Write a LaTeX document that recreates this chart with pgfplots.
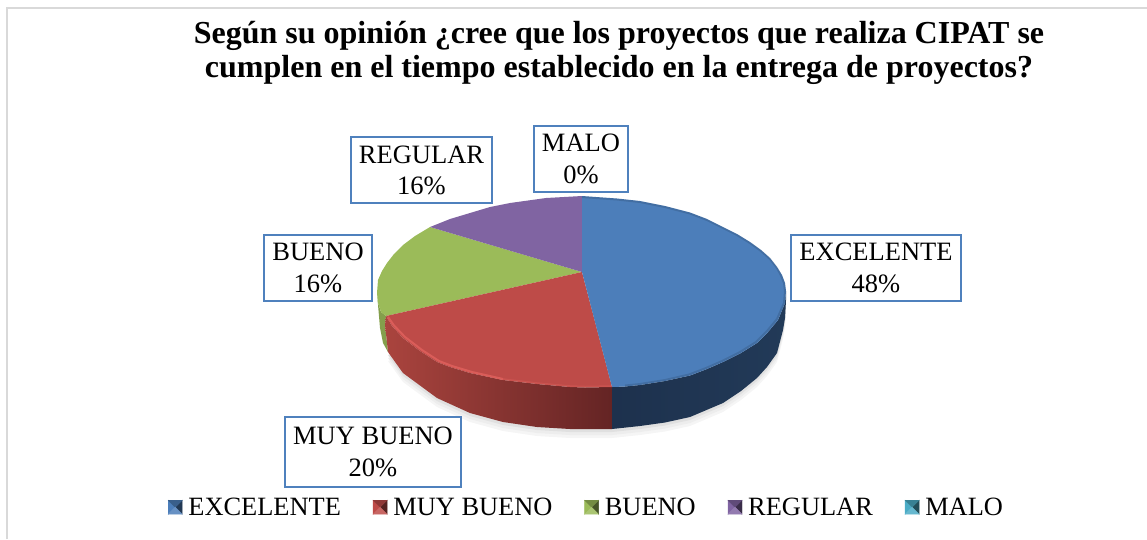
\documentclass[border=0pt]{standalone}
\usepackage{pgfplots}
\usepackage{pgfplotstable}
\usepackage{fontspec}
\setmainfont{Liberation Serif}
\pgfplotsset{compat=1.18}
\definecolor{boxblue}{RGB}{79,129,189}
\definecolor{cA}{RGB}{76,126,186}
\definecolor{cB}{RGB}{190,75,72}
\definecolor{cC}{RGB}{155,187,89}
\definecolor{cD}{RGB}{128,100,162}
\definecolor{cE}{RGB}{75,172,198}
\pgfplotstableread{
x y
582 272
582 196
617 198.5
640 201
665 206
690 212.5
707 219
723 227
737 234
750 242
761 250
770 258
777 267
782 275
785 283
786 291
785 303
778 320
768 332
757 343
741 353
723 362
707 369
690 375.5
665 381
640 385
625 386.5
612 387
}\blueTop
\pgfplotstableread{
x y
582 272
612 387
585 387.5
570 387
537 384
503 380
470 373
450 367
437 362
420 351
403 338
392 326
386 316
}\redTop
\pgfplotstableread{
x y
582 272
386 316
381 312
378 303
377 293
378 280
382 271
387 263
394 254
403 245
415 236
430 227
}\greenTop
\pgfplotstableread{
x y
582 272
430 227
450 219
470 213
490 207
510 203
546 198
582 196
}\purpleTop
\pgfplotstableread{
x y
786 291
785 303
778 320
768 332
757 343
741 353
723 362
707 369
690 375.5
665 381
640 385
625 386.5
612 387
612 429
640 426
665 422.5
690 417
723 403
741 391
757 378
767 367
777 353
783 330
785 318
786 300
}\blueWall
\pgfplotstableread{
x y
612 387
585 387.5
570 387
537 384
503 380
470 373
450 367
437 362
420 351
403 338
392 326
386 316
385 325
388 352
403 373
437 398
470 413
503 422
537 427
570 429
612 429
}\redWall
\pgfplotstableread{
x y
377 293
378 303
381 312
386 316
385 325
388 352
383 343
380 328
}\greenWall
\pgfplotstableread{
x y
786 300
785 318
783 330
777 353
767 367
757 378
741 391
723 403
690 417
665 422.5
640 426
612 429
570 429
537 427
503 422
470 413
437 398
403 373
388 352
582 300
}\shadowShape
\pgfplotstableread{
x y
388 317
394 325.5
405 337
422 350
439 361
452 366
472 372
503 379
}\redRim
\pgfplotstableread{
x y
503 379
537 383
570 386
585 386.5
612 386
}\redRimEnd
\pgfplotstableread{
x y
582 197
617 199.5
640 202
665 207
690 213.5
707 220
723 228
737 235
750 243
761 251
770 259
777 268
781 275.5
784 283
785 291
784 303
777 319
767 331
756 342
740 352
722 361
706 368
689 374.5
665 380
640 384
625 385.5
}\blueRim
\newcommand{\swatch}[1]{%
  \addlegendimage{legend image code/.code={%
    \begin{scope}[yshift=8.5pt]
    \fill[#1] (0pt,-7pt) -- (7pt,0pt) -- (0pt,7pt) -- cycle;
    \fill[#1!45!black] (14pt,-7pt) -- (7pt,0pt) -- (14pt,7pt) -- cycle;
    \fill[#1!75!black] (0pt,7pt) -- (7pt,0pt) -- (14pt,7pt) -- cycle;
    \fill[#1!85!white] (0pt,-7pt) -- (7pt,0pt) -- (14pt,-7pt) -- cycle;
    \end{scope}
  }}%
}
\begin{document}
\begin{tikzpicture}
\useasboundingbox (0,0) rectangle (1147pt,539pt);
\begin{axis}[
  scale only axis, width=1147pt, height=539pt,
  xmin=0, xmax=1147, ymin=0, ymax=539, y dir=reverse,
  hide axis, clip=true,
  every axis plot/.append style={forget plot},
  legend style={at={(0.1465,0.0580)}, anchor=west, draw=none, fill=none,
    legend columns=5, inner sep=0pt, outer sep=0pt,
    font=\fontsize{26.4}{30}\selectfont,
    /tikz/every even column/.append style={column sep=32pt},
    /tikz/every odd column/.append style={column sep=6pt},
    nodes={inner sep=0pt, outer sep=0pt, anchor=base west},
    legend cell align=left},
]
% frame
\addplot[color=black!15, line width=2pt] coordinates {(7,539) (7,8) (1147,8)};
% shadow
\addplot[fill=black!4, draw=none, yshift=-9pt] table {\shadowShape};
\addplot[fill=black!7, draw=none, yshift=-6pt] table {\shadowShape};
\addplot[fill=black!12, draw=none, yshift=-3pt] table {\shadowShape};
% walls
\addplot[fill=cC!85!black, draw=none] table {\greenWall};
\addplot[draw=none, left color={rgb,255:red,170;green,68;blue,62}, middle color={rgb,255:red,128;green,50;blue,48}, right color={rgb,255:red,100;green,36;blue,36}] table {\redWall};
\addplot[draw=none, left color={rgb,255:red,29;green,49;blue,77}, right color={rgb,255:red,34;green,58;blue,88}] table {\blueWall};
% tops
\addplot[fill=cC, draw=none] table {\greenTop};
\addplot[fill=cD, draw=none] table {\purpleTop};
\addplot[fill=cB, draw=none] table {\redTop};
\addplot[fill=cA, draw=none] table {\blueTop};
\addplot[color={rgb,255:red,226;green,98;blue,94}, line width=2pt, opacity=.8] table {\redRim};
\addplot[color={rgb,255:red,226;green,98;blue,94}, line width=1.5pt, opacity=.35] table {\redRimEnd};
\addplot[color=black, line width=2pt, opacity=.12] table {\blueRim};
% labels
\tikzset{lab/.style={draw=boxblue, line width=1.8pt, fill=white, align=center, inner sep=0pt,
   font=\fontsize{26.5}{32}\selectfont, text=black}}
\node[lab, minimum width=170pt, minimum height=66pt] at (axis cs:876,268) {EXCELENTE\\48\%};
\node[lab, minimum width=176pt, minimum height=70pt] at (axis cs:373,452) {MUY BUENO\\20\%};
\node[lab, minimum width=108pt, minimum height=66pt] at (axis cs:318,268) {BUENO\\16\%};
\node[lab, minimum width=141pt, minimum height=66pt] at (axis cs:421.5,170) {\raisebox{-3pt}{REGULAR}\\\raisebox{-2pt}{16\%}};
\node[lab, minimum width=94pt, minimum height=66pt] at (axis cs:581,159) {MALO\\0\%};
% title
\node[align=center, font=\fontsize{32}{34}\selectfont\bfseries, text=black] at (axis cs:619,53)
  {Según su opinión ¿cree que los proyectos que realiza CIPAT se\\cumplen en el tiempo establecido en la entrega de proyectos?};
% legend
\swatch{cA}\addlegendentry{EXCELENTE}
\swatch{cB}\addlegendentry{MUY BUENO}
\swatch{cC}\addlegendentry{BUENO}
\swatch{cD}\addlegendentry{REGULAR}
\swatch{cE}\addlegendentry{MALO}
\end{axis}
\end{tikzpicture}
\end{document}
